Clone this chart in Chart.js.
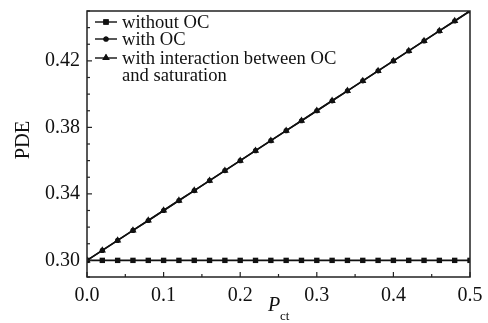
<!DOCTYPE html>
<html>
<head>
<meta charset="utf-8">
<script src="https://cdn.jsdelivr.net/npm/chart.js@4.4.0/dist/chart.umd.min.js"></script>
<style>
  html, body { margin: 0; padding: 0; background: #fff; }
  #wrap { width: 488px; height: 323px; }
</style>
</head>
<body>
<div id="wrap"><canvas id="pdeChart" width="488" height="323"></canvas></div>
<script>
// P_ct values (x axis)
const pct = [0.00, 0.02, 0.04, 0.06, 0.08, 0.10, 0.12, 0.14, 0.16, 0.18, 0.20, 0.22, 0.24,
             0.26, 0.28, 0.30, 0.32, 0.34, 0.36, 0.38, 0.40, 0.42, 0.44, 0.46, 0.48, 0.50];

// PDE series
const withoutOC = [0.300, 0.300, 0.300, 0.300, 0.300, 0.300, 0.300, 0.300, 0.300, 0.300, 0.300, 0.300, 0.300,
                   0.300, 0.300, 0.300, 0.300, 0.300, 0.300, 0.300, 0.300, 0.300, 0.300, 0.300, 0.300, 0.300];
const withOC = [0.300, 0.306, 0.312, 0.318, 0.324, 0.330, 0.336, 0.342, 0.348, 0.354, 0.360, 0.366, 0.372,
                0.378, 0.384, 0.390, 0.396, 0.402, 0.408, 0.414, 0.420, 0.426, 0.432, 0.438, 0.444, 0.450];
const withInteraction = [0.300, 0.306, 0.312, 0.318, 0.324, 0.330, 0.336, 0.342, 0.348, 0.354, 0.360, 0.366, 0.372,
                         0.378, 0.384, 0.390, 0.396, 0.402, 0.408, 0.414, 0.420, 0.426, 0.432, 0.438, 0.444, 0.450];

const seriesLabels = ['without OC', 'with OC', ['with interaction between OC', 'and saturation']];
const yLabelTicks = [0.30, 0.34, 0.38, 0.42];
const xLabelTicks = [0.0, 0.1, 0.2, 0.3, 0.4, 0.5];

const serif = '"Liberation Serif", "DejaVu Serif", serif';
const ink = '#111';

function toPoints(ys) {
    return pct.map((x, i) => ({x: x, y: ys[i]}));
}

function makeSet(label, ys, style, radius) {
    return {
        label: label,
        data: toPoints(ys),
        borderColor: ink,
        backgroundColor: ink,
        borderWidth: 1.6,
        pointStyle: style,
        pointRadius: radius,
        pointBorderWidth: 0,
        pointHoverRadius: radius,
        tension: 0
    };
}

// inward ticks, frame, legend and axis titles
const decorPlugin = {
    id: 'decor',
    afterDraw(chart) {
        const ctx = chart.ctx;
        const area = chart.chartArea;
        const xs = chart.scales.x;
        const ys = chart.scales.y;
        ctx.save();
        ctx.strokeStyle = '#222';
        ctx.lineWidth = 1.5;
        ctx.strokeRect(area.left, area.top, area.right - area.left, area.bottom - area.top);

        ctx.lineWidth = 1.2;
        ys.ticks.forEach(t => {
            const py = ys.getPixelForValue(t.value);
            const major = yLabelTicks.some(v => Math.abs(v - t.value) < 1e-6);
            ctx.beginPath();
            ctx.moveTo(area.left, py);
            ctx.lineTo(area.left + (major ? 5 : 3), py);
            ctx.stroke();
        });
        xs.ticks.forEach(t => {
            const px = xs.getPixelForValue(t.value);
            const major = xLabelTicks.some(v => Math.abs(v - t.value) < 1e-6);
            ctx.beginPath();
            ctx.moveTo(px, area.bottom);
            ctx.lineTo(px, area.bottom - (major ? 5 : 3));
            ctx.stroke();
        });

        // legend
        const rows = [22, 39, 58];
        ctx.font = '18.6px ' + serif;
        ctx.fillStyle = ink;
        ctx.textBaseline = 'middle';
        chart.data.datasets.forEach((ds, i) => {
            const y = rows[i];
            ctx.strokeStyle = ink;
            ctx.lineWidth = 1.4;
            ctx.beginPath();
            ctx.moveTo(95, y);
            ctx.lineTo(117, y);
            ctx.stroke();
            Chart.helpers.drawPoint(ctx, {pointStyle: ds.pointStyle, radius: ds.pointRadius, borderWidth: 0}, 106, y);
            ctx.fill();
            const lines = Array.isArray(ds.label) ? ds.label : [ds.label];
            lines.forEach((s, j) => ctx.fillText(s, 122, y + 1 + j * 17));
        });

        // axis titles
        ctx.textAlign = 'center';
        ctx.font = '20.5px ' + serif;
        ctx.save();
        ctx.translate(24, 140);
        ctx.rotate(-Math.PI / 2);
        ctx.fillText('PDE', 0, 0);
        ctx.restore();

        ctx.textAlign = 'left';
        ctx.textBaseline = 'alphabetic';
        ctx.font = 'italic 20px ' + serif;
        ctx.fillText('P', 268, 311);
        ctx.font = '13px ' + serif;
        ctx.fillText('ct', 280, 320);
        ctx.restore();
    }
};

const chart = new Chart(document.getElementById('pdeChart').getContext('2d'), {
    type: 'line',
    data: {
        datasets: [
            makeSet(seriesLabels[0], withoutOC, 'rect', 3.8),
            makeSet(seriesLabels[1], withOC, 'circle', 2.6),
            makeSet(seriesLabels[2], withInteraction, 'triangle', 4.2)
        ]
    },
    options: {
        responsive: false,
        animation: false,
        layout: { padding: { top: 11, right: 18, left: 0, bottom: 0 } },
        plugins: {
            legend: { display: false },
            tooltip: { enabled: false }
        },
        scales: {
            x: {
                type: 'linear',
                min: 0,
                max: 0.5,
                grid: { display: false, drawTicks: false },
                border: { display: false },
                ticks: {
                    stepSize: 0.05,
                    autoSkip: false,
                    maxRotation: 0,
                    padding: 7,
                    color: ink,
                    font: { family: serif, size: 20 },
                    callback: v => (Math.round(v * 100) % 10 === 0 ? v.toFixed(1) : '')
                },
                afterFit(scale) {
                    scale.height = 46;
                    scale.paddingLeft = 0;
                    scale.paddingRight = 0;
                }
            },
            y: {
                min: 0.29,
                max: 0.45,
                grid: { display: false, drawTicks: false },
                border: { display: false },
                ticks: {
                    stepSize: 0.01,
                    autoSkip: false,
                    padding: 7,
                    color: ink,
                    font: { family: serif, size: 20 },
                    callback: v => (yLabelTicks.some(t => Math.abs(t - v) < 1e-6) ? v.toFixed(2) : '')
                },
                afterFit(scale) {
                    scale.width = 87;
                    scale.paddingTop = 0;
                    scale.paddingBottom = 0;
                }
            }
        }
    },
    plugins: [decorPlugin]
});
</script>
</body>
</html>
